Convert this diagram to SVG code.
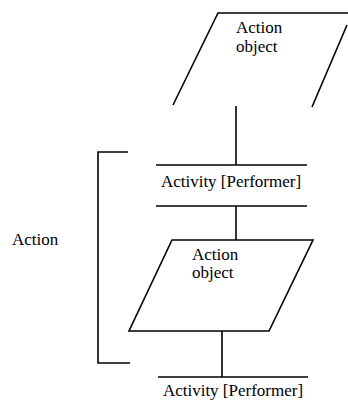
<svg xmlns="http://www.w3.org/2000/svg" width="348" height="401" viewBox="0 0 348 401">
  <style>
    .ln { stroke: #000; stroke-width: 1.6; fill: none; }
    .tx { font-family: "Liberation Serif", "Times New Roman", serif; font-size: 17px; fill: #000; }
  </style>
  <rect width="348" height="401" fill="#fff"/>

  <!-- top action object: open-bottom parallelogram running off the right edge -->
  <g id="object-top">
    <path class="ln" d="M173,105 L218,13 L353,13 M347,25 L312,107"/>
    <text class="tx" x="236" y="33">Action</text>
    <text class="tx" x="236" y="52">object</text>
  </g>

  <g id="activity-1">
    <line class="ln" x1="156" y1="165" x2="307" y2="165"/>
    <line class="ln" x1="156" y1="206" x2="307" y2="206"/>
    <text class="tx" x="231" y="187" text-anchor="middle">Activity [Performer]</text>
  </g>

  <g id="object-mid">
    <polygon class="ln" points="172,240 313,240 269,331 129,331"/>
    <text class="tx" x="192" y="260">Action</text>
    <text class="tx" x="192" y="278">object</text>
  </g>

  <g id="activity-2">
    <line class="ln" x1="158" y1="377" x2="308" y2="377"/>
    <text class="tx" x="233" y="396" text-anchor="middle">Activity [Performer]</text>
  </g>

  <!-- bracket grouping the action -->
  <g id="action-bracket">
    <path class="ln" d="M128,152 L98,152 L98,363 L130,363"/>
    <text class="tx" x="12" y="245">Action</text>
  </g>

  <g id="connectors">
    <line class="ln" x1="236" y1="106" x2="236" y2="165"/>
    <line class="ln" x1="236" y1="206" x2="236" y2="240"/>
    <line class="ln" x1="222" y1="331" x2="222" y2="377"/>
  </g>
</svg>
